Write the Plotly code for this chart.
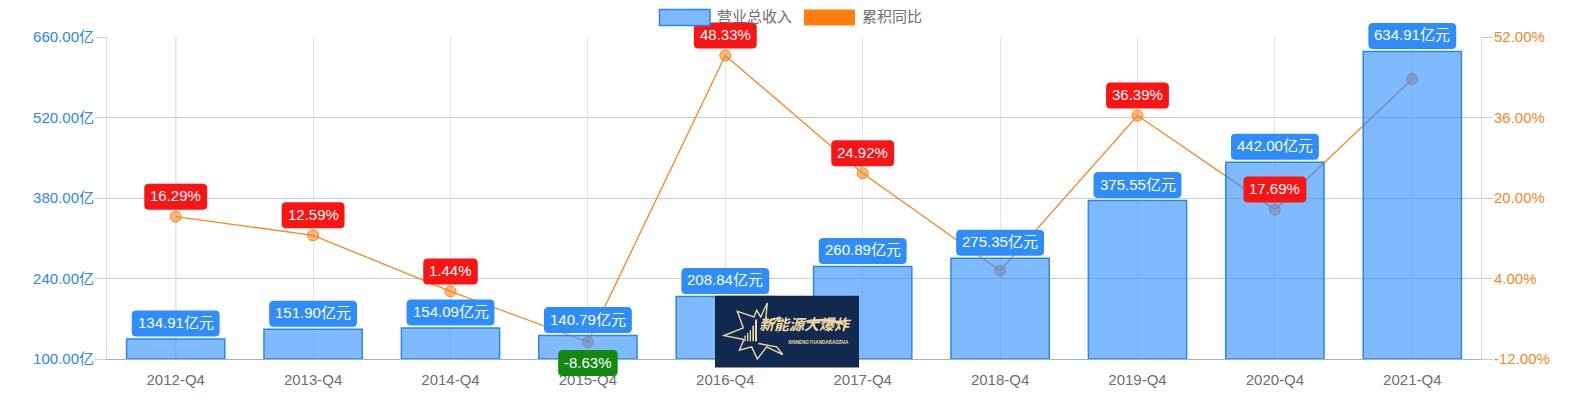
import plotly.graph_objects as go

categories = ["2012-Q4", "2013-Q4", "2014-Q4", "2015-Q4", "2016-Q4",
              "2017-Q4", "2018-Q4", "2019-Q4", "2020-Q4", "2021-Q4"]
revenue = [134.91, 151.90, 154.09, 140.79, 208.84, 260.89, 275.35, 375.55, 442.00, 634.91]
growth = [16.29, 12.59, 1.44, -8.63, 48.33, 24.92, 5.54, 36.39, 17.69, 43.64]
growth_hidden_labels = ["2018-Q4", "2021-Q4"]
left_ticks = [100, 240, 380, 520, 660]
right_ticks = [-12, 4, 20, 36, 52]

W, H = 1590, 400
L, R, T, B = 107, 1481, 36.5, 359.5
FONT = "Liberation Sans, Arial, Noto Sans CJK SC, sans-serif"
BLUE, ORANGE = "#2b87ea", "#f5871f"


def px(x):
    return (x - L) / (R - L)


def py(y):
    return (B - y) / (B - T)


def frac_y(v, ticks):
    return (v - ticks[0]) / (ticks[-1] - ticks[0])


def text_w(s):
    w = 0
    for c in s:
        if c.isdigit():
            w += .556
        elif c == ".":
            w += .278
        elif c == "%":
            w += .889
        elif c == "-":
            w += .333
        else:
            w += 1
    return w * 15 + 12


def pill(w, h=26, r=4.5, cy=0):
    x0, x1, y0, y1 = -w / 2, w / 2, cy - h / 2, cy + h / 2
    return (f"M {x0 + r} {y0} L {x1 - r} {y0} Q {x1} {y0} {x1} {y0 + r} L {x1} {y1 - r} "
            f"Q {x1} {y1} {x1 - r} {y1} L {x0 + r} {y1} Q {x0} {y1} {x0} {y1 - r} "
            f"L {x0} {y0 + r} Q {x0} {y0} {x0 + r} {y0} Z")


def pixel_path(points, close=True):
    d = " ".join(("M" if i == 0 else "L") + f" {px(500 + a / 3):.5f} {py(260 + b / 3):.5f}"
                 for i, (a, b) in enumerate(points))
    return d + (" Z" if close else "")


fig = go.Figure()
fig.add_trace(go.Scatter(
    x=categories, y=growth, name="累积同比", mode="lines+markers", yaxis="y",
    line=dict(color=ORANGE, width=1.3),
    marker=dict(size=11, color="rgba(255,127,14,0.55)", line=dict(color=ORANGE, width=1)),
))
fig.add_trace(go.Bar(
    x=categories, y=[v - left_ticks[0] for v in revenue], base=left_ticks[0], name="营业总收入", yaxis="y2",
    marker=dict(color="rgba(45,140,255,0.61)", line=dict(color=BLUE, width=1.5)),
))

shapes, annotations = [], []

shapes.append(dict(type="line", xref="x", yref="paper", x0=categories[0], x1=categories[0], y0=0, y1=1,
                   line=dict(color="#999999", width=1), layer="between"))

n = len(categories)
for i, (c, g) in enumerate(zip(categories, growth)):
    if c in growth_hidden_labels:
        continue
    txt = f"{g:.2f}%"
    up = g >= 0
    off = 20 if up else -21
    shapes.append(dict(type="path", xref="paper", yref="paper", xsizemode="pixel", ysizemode="pixel",
                       xanchor=(i + .5) / n, yanchor=frac_y(g, right_ticks),
                       path=pill(text_w(txt), cy=off), fillcolor="#fa1414" if up else "#128a12",
                       line=dict(width=0), layer="above"))
    annotations.append(dict(xref="x", yref="y", x=c, y=g, yshift=off + 1, text=txt, showarrow=False,
                            font=dict(family=FONT, size=15, color="white")))
for i, (c, v) in enumerate(zip(categories, revenue)):
    txt = f"{v:.2f}亿元"
    shapes.append(dict(type="path", xref="paper", yref="paper", xsizemode="pixel", ysizemode="pixel",
                       xanchor=(i + .5) / n, yanchor=frac_y(v, left_ticks),
                       path=pill(text_w(txt), cy=15.5), fillcolor="#2e8dfb",
                       line=dict(width=0), layer="above"))
    annotations.append(dict(xref="x", yref="y2", x=c, y=v, yshift=16.5, text=txt, showarrow=False,
                            font=dict(family=FONT, size=15, color="white")))

shapes.append(dict(type="rect", xref="paper", yref="paper", x0=px(659.5), x1=px(710), y0=py(25), y1=py(9),
                   fillcolor="#7eb9ff", line=dict(color=BLUE, width=1.5), layer="above"))
shapes.append(dict(type="rect", xref="paper", yref="paper", x0=px(804), x1=px(855), y0=py(25), y1=py(9),
                   fillcolor="#ff7f0e", line=dict(width=0), layer="above"))
for x0, t in [(717, "营业总收入"), (862, "累积同比")]:
    annotations.append(dict(xref="paper", yref="paper", x=px(x0), y=py(16), xanchor="left", yanchor="middle",
                            text=t, showarrow=False, xshift=-2,
                            font=dict(family=FONT, size=15, color="#6e6e6e")))

GOLD = "#efd9a0"
shapes.append(dict(type="rect", xref="paper", yref="paper", x0=px(715), x1=px(859), y0=py(368), y1=py(296),
                   fillcolor="#122a50", line=dict(width=0), layer="above"))
burst_upper = [(732, 240), (672, 228), (730, 205), (712, 155), (762, 172), (770, 152), (782, 172), (802, 130),
               (796, 190), (840, 172), (812, 198)]
burst_lower = [(775, 252), (830, 262), (848, 285), (800, 262), (772, 298), (755, 262), (718, 272), (732, 240)]
shapes.append(dict(type="path", xref="paper", yref="paper",
                   path=pixel_path(burst_upper, False) + " " + pixel_path(burst_lower, False),
                   line=dict(color=GOLD, width=1.4), layer="above"))
for a, top, wd in [(733, 228, 4), (741, 220, 4), (749, 212, 4), (757, 198, 5), (765, 180, 6)]:
    shapes.append(dict(type="path", xref="paper", yref="paper",
                       path=pixel_path([(a, 245), (a + wd, 245), (a + wd, top), (a, top)]),
                       line=dict(width=0), fillcolor=GOLD, layer="above"))
arc = [(880, 192), (930, 180), (980, 177), (1020, 185), (1050, 205), (1015, 192), (975, 185), (930, 185)]
shapes.append(dict(type="path", xref="paper", yref="paper", path=pixel_path(arc),
                   line=dict(width=0), fillcolor=GOLD, layer="above"))
annotations.append(dict(xref="paper", yref="paper", x=px(805), y=py(336.5), text="新能源大爆炸", showarrow=False,
                        font=dict(family="Noto Sans CJK SC", size=15, color=GOLD, weight="bold", style="italic")))
annotations.append(dict(xref="paper", yref="paper", x=px(818), y=py(347.5), text="XINNENGYUANDABAOZHA", showarrow=False,
                        font=dict(family="Liberation Sans", size=4.6, color=GOLD, weight="bold")))

fig.update_layout(
    width=W, height=H,
    margin=dict(l=L, r=W - R, t=T, b=H - B, pad=0, autoexpand=False),
    paper_bgcolor="white", plot_bgcolor="white",
    showlegend=False, bargap=0.285, barmode="overlay",
    font=dict(family=FONT, size=15),
    shapes=shapes, annotations=annotations,
    xaxis=dict(type="category", categoryarray=categories, categoryorder="array", range=[-0.5, 9.5],
               showgrid=True, gridcolor="#e4e4e4", gridwidth=1, automargin=False,
               showline=True, linecolor="#aeaeae", linewidth=1, ticks="", zeroline=False,
               tickfont=dict(family=FONT, size=15, color="#6e6e6e"), ticklabelstandoff=7),
    yaxis=dict(side="right", range=[right_ticks[0], right_ticks[-1]], tickmode="array",
               tickvals=right_ticks, ticktext=[f"{v:.2f}%" for v in right_ticks],
               tickfont=dict(family=FONT, size=15, color=ORANGE), automargin=False,
               showgrid=True, gridcolor="#cccccc", gridwidth=1, zeroline=False,
               ticks="outside", ticklen=11, tickcolor="#cccccc", tickwidth=1, ticklabelstandoff=-2,
               showline=True, linecolor="#dddddd", linewidth=1),
    yaxis2=dict(side="left", overlaying="y", range=[left_ticks[0], left_ticks[-1]], tickmode="array",
                tickvals=left_ticks, ticktext=[f"{v:.2f}亿" for v in left_ticks],
                tickfont=dict(family=FONT, size=15, color=BLUE), automargin=False,
                showgrid=False, zeroline=False,
                ticks="outside", ticklen=11, tickcolor="#cccccc", tickwidth=1, ticklabelstandoff=-2,
                showline=True, linecolor="#dddddd", linewidth=1),
)

fig.write_html("out.html", config={"displayModeBar": False},
               post_script="document.body.style.margin='0';")
